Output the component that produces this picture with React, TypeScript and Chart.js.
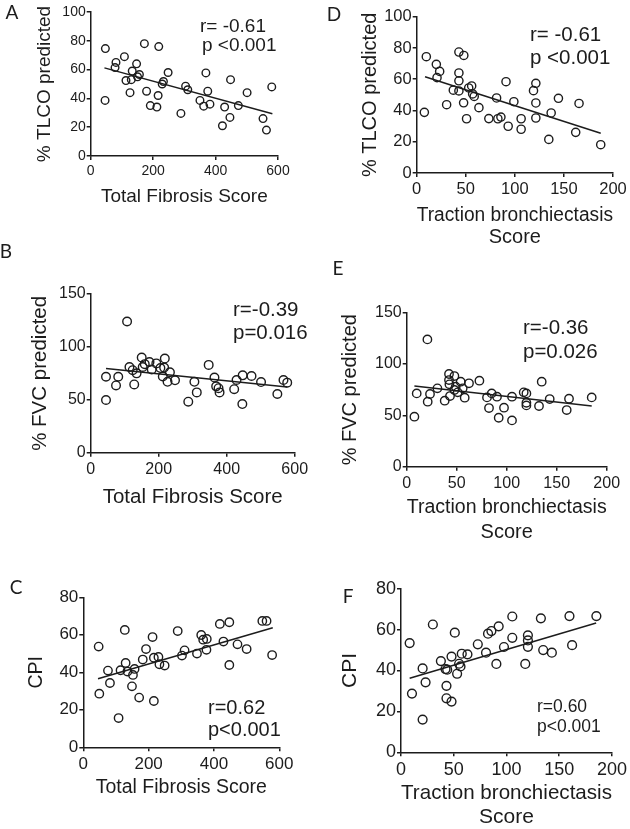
import React, { useEffect, useRef } from "react";
import { Chart, registerables } from "chart.js";
Chart.register(...registerables);

// ---- Panel A: Total Fibrosis Score vs % TLCO predicted ----
const aX = [47, 46, 78, 81, 108, 113, 126, 130, 133, 147, 150, 156, 172, 179, 191, 212, 216, 218, 229, 233, 248, 289, 304, 311, 350, 362, 369, 375, 382, 422, 429, 446, 448, 473, 501, 552, 563, 580];
const aY = [74.6, 38.6, 61.4, 65, 69, 52.4, 44, 53, 59, 64, 55, 56.6, 78, 45, 35, 34, 42, 76, 50, 51.7, 58, 29.6, 48.5, 46, 38.6, 34.6, 57.7, 45, 36, 21, 34, 26.8, 53, 35, 44, 26, 18, 48];
const aFitX = [44, 582];
const aFitY = [61.2, 29.3];

// ---- Panel D: Traction bronchiectasis Score vs % TLCO predicted ----
const dX = [7.8, 9.8, 20, 20.7, 23.4, 30.5, 37.3, 43, 43, 43, 43, 48, 47.8, 50.8, 53, 56, 57, 58.6, 63.4, 73.5, 81.4, 82.7, 85.8, 91, 93.2, 99, 106.4, 106.4, 119, 121.4, 121.4, 121.4, 134.6, 137, 144.4, 162, 165.4, 187.5];
const dY = [38.8, 74.4, 69.5, 61, 65, 43.7, 53, 77.4, 64, 59, 52.5, 75.2, 44.9, 34.7, 54.4, 55.7, 50.6, 49, 41.8, 34.8, 48, 34.7, 35.8, 58.4, 29.9, 45.6, 34.7, 28, 52.7, 57.4, 44.8, 35.2, 21.5, 38.4, 47.8, 26, 44.5, 18.1];
const dFitX = [8.5, 187.5];
const dFitY = [61.6, 25.4];

// ---- Panel B: Total Fibrosis Score vs % FVC predicted ----
const bX = [45, 45, 74.5, 81, 107, 114, 123.5, 128, 135, 150, 153, 159, 173, 179.5, 193, 205, 212, 218, 216, 226, 233, 248, 287, 305, 312, 347, 364, 369, 376, 379, 422, 429, 446, 447, 473, 501, 549, 567, 578];
const bY = [49.8, 71.8, 63.6, 71.8, 124, 81, 78, 64.5, 75, 90, 81, 83.7, 85.7, 78.7, 84.4, 80, 72, 89, 80.5, 67, 76, 68.4, 48.2, 67, 57, 83, 71, 62.7, 61, 57, 60, 68.7, 46, 73.1, 72.5, 66.8, 55.5, 68.7, 66.2];
const bFitX = [45, 578];
const bFitY = [79.5, 62];

// ---- Panel E: Traction bronchiectasis Score vs % FVC predicted ----
const eX = [7.7, 10, 20.7, 21, 23.3, 30.7, 38, 42.3, 42.3, 42.7, 43.3, 47.7, 47.7, 49, 51, 54, 56, 58, 62.3, 72.7, 80.3, 82.3, 85, 90.3, 92, 97.3, 105.3, 105.3, 117, 119.7, 119.7, 119.7, 132.3, 135, 143, 162.3, 160, 185];
const eY = [48.7, 71.4, 124, 63.3, 70.8, 76.3, 64.3, 90.3, 84.4, 80.2, 68.8, 88.3, 74.7, 77.9, 72.4, 82.8, 76.3, 67.2, 81.2, 83.8, 67.5, 57.1, 71.4, 68.2, 47.7, 57.5, 45.1, 68.2, 72.4, 71.4, 62.3, 59.7, 59.1, 82.8, 65.9, 66.2, 55.2, 67.5];
const eFitX = [7.7, 185];
const eFitY = [78.6, 59.1];

// ---- Panel C: Total Fibrosis Score vs CPI ----
const cX = [47, 49, 75.5, 81.6, 108, 114, 127, 129.6, 135, 149, 152, 157, 171, 182, 192, 212, 216, 216, 230, 233, 249, 289, 302, 310, 348, 361, 367, 378, 377, 418, 429, 447, 447, 472, 500, 548, 561, 578];
const cY = [53.7, 28.6, 40.9, 34.3, 15.6, 41.1, 62.6, 45, 40.4, 32.5, 38.6, 41.8, 26.5, 46.8, 52.4, 58.8, 24.7, 47.8, 48.2, 44.3, 43.6, 62, 48.9, 51.7, 50, 59.9, 57.4, 57.8, 52, 65.8, 56.4, 66.7, 43.9, 54.9, 52.4, 67.4, 67.4, 49.2];
const cFitX = [45, 580];
const cFitY = [36.6, 63.8];

// ---- Panel F: Traction bronchiectasis Score vs CPI ----
const fX = [8.2, 10.4, 20.5, 20.5, 23.3, 30.2, 37.8, 42.2, 43.1, 43.1, 43.8, 47.9, 47.9, 51, 53.2, 55.1, 56.4, 57.6, 63, 72.8, 80.6, 82.5, 85.7, 90.4, 92.6, 97.6, 105.5, 105.5, 117.8, 120.3, 120.3, 120.3, 132.6, 134.8, 143, 159.7, 162.2, 185.2];
const fY = [53.4, 28.7, 41, 16, 34.2, 62.5, 44.6, 40.7, 32.5, 26.4, 40.4, 24.8, 46.8, 58.5, 38.4, 43.3, 42, 48.2, 47.9, 52.8, 48.7, 58, 59.3, 43.2, 61.6, 51.5, 56, 66.4, 43.2, 57.2, 54.7, 51.6, 65.5, 50, 48.7, 66.6, 52.4, 66.6];
const fFitX = [8.2, 185];
const fFitY = [36.2, 63.2];

// ---- axis labels / annotations ----
const tlcoTitle = "% TLCO predicted";
const fvcTitle = "% FVC predicted";
const cpiTitle = "CPI";
const tfsTitle = "Total Fibrosis Score";
const tbTitle = ["Traction bronchiectasis", "Score"];

const INK = "#1c1c1c";
const SANS = '"Liberation Sans", Arial, Helvetica, sans-serif';
const LETTER_FONT = 'Lato, "Open Sans", sans-serif';

type Panel = {
  left: number; top: number; w: number; h: number;
  L: number; R: number; T: number; B: number;
  yTitleX: number; xTitleY: number;
  xs: number[]; ys: number[]; fitX: number[]; fitY: number[];
  xMax: number; xStep: number; yMax: number; yStep: number;
  xTitle: string | string[]; yTitle: string;
  titleSize: number; titleLH: number; tickSize: number; pr: number;
  notes: [string, number, number][]; noteSize: number;
  letter: string; letterX: number; letterY: number;
};

const panels: Panel[] = [
  {
    left: 0, top: 0, w: 315, h: 235, L: 90.7, R: 278, T: 12, B: 156,
    yTitleX: 45, xTitleY: 197, xs: aX, ys: aY, fitX: aFitX, fitY: aFitY,
    xMax: 600, xStep: 200, yMax: 100, yStep: 20, xTitle: tfsTitle, yTitle: tlcoTitle,
    titleSize: 19, titleLH: 1.2, tickSize: 14, pr: 3.8,
    notes: [["r= -0.61", 200, 27], ["p <0.001", 202, 46]], noteSize: 19,
    letter: "A", letterX: 12, letterY: 13,
  },
  {
    left: 315, top: 0, w: 315, h: 250, L: 101.7, R: 298, T: 16.7, B: 173,
    yTitleX: 55, xTitleY: 215, xs: dX, ys: dY, fitX: dFitX, fitY: dFitY,
    xMax: 200, xStep: 50, yMax: 100, yStep: 20, xTitle: tbTitle, yTitle: tlcoTitle,
    titleSize: 20, titleLH: 1.1, tickSize: 16.5, pr: 4.1,
    notes: [["r= -0.61", 215, 35], ["p <0.001", 215, 58]], noteSize: 20.5,
    letter: "D", letterX: 19, letterY: 15,
  },
  {
    left: 0, top: 235, w: 315, h: 320, L: 90.7, R: 294.7, T: 59, B: 217.7,
    yTitleX: 40, xTitleY: 262, xs: bX, ys: bY, fitX: bFitX, fitY: bFitY,
    xMax: 600, xStep: 200, yMax: 150, yStep: 50, xTitle: tfsTitle, yTitle: fvcTitle,
    titleSize: 20.5, titleLH: 1.2, tickSize: 16, pr: 4.3,
    notes: [["r=-0.39", 233, 75], ["p=0.016", 233, 98]], noteSize: 20.5,
    letter: "B", letterX: 6, letterY: 17,
  },
  {
    left: 315, top: 235, w: 315, h: 320, L: 91.7, R: 291.7, T: 77.7, B: 231.7,
    yTitleX: 35, xTitleY: 272, xs: eX, ys: eY, fitX: eFitX, fitY: eFitY,
    xMax: 200, xStep: 50, yMax: 150, yStep: 50, xTitle: tbTitle, yTitle: fvcTitle,
    titleSize: 20, titleLH: 1.25, tickSize: 16, pr: 4.2,
    notes: [["r=-0.36", 208, 93], ["p=0.026", 208, 117]], noteSize: 20.5,
    letter: "E", letterX: 23, letterY: 34,
  },
  {
    left: 0, top: 555, w: 315, h: 274, L: 83.3, R: 279.3, T: 42.3, B: 192.3,
    yTitleX: 37, xTitleY: 233, xs: cX, ys: cY, fitX: cFitX, fitY: cFitY,
    xMax: 600, xStep: 200, yMax: 80, yStep: 20, xTitle: tfsTitle, yTitle: cpiTitle,
    titleSize: 19.5, titleLH: 1.2, tickSize: 17, pr: 4.2,
    notes: [["r=0.62", 208, 153], ["p<0.001", 208, 175]], noteSize: 20,
    letter: "C", letterX: 16, letterY: 33,
  },
  {
    left: 315, top: 555, w: 315, h: 274, L: 86, R: 297.7, T: 33.7, B: 197.3,
    yTitleX: 35, xTitleY: 238, xs: fX, ys: fY, fitX: fFitX, fitY: fFitY,
    xMax: 200, xStep: 50, yMax: 80, yStep: 20, xTitle: tbTitle, yTitle: cpiTitle,
    titleSize: 21, titleLH: 1.143, tickSize: 18, pr: 4.4,
    notes: [["r=0.60", 222, 152], ["p<0.001", 222, 172]], noteSize: 17.5,
    letter: "F", letterX: 33, letterY: 42,
  },
];

function ScatterPanel({ p }: { p: Panel }) {
  const ref = useRef<HTMLCanvasElement | null>(null);
  useEffect(() => {
    if (!ref.current) return;
    const lh = p.titleSize * p.titleLH;
    const nLines = Array.isArray(p.xTitle) ? p.xTitle.length : 1;
    const padLeft = p.yTitleX - lh / 2;
    const yW = p.L - padLeft;
    const scaleBottom = p.xTitleY + lh / 2 + lh * (nLines - 1);
    const padBottom = p.h - scaleBottom;
    const xH = scaleBottom - p.B;

    const notesPlugin = {
      id: "notes",
      afterDraw(chart: any) {
        const ctx = chart.ctx as CanvasRenderingContext2D;
        ctx.save();
        ctx.fillStyle = INK;
        ctx.textAlign = "left";
        ctx.textBaseline = "middle";
        ctx.font = `${p.noteSize}px ${SANS}`;
        p.notes.forEach(([t, x, y]) => ctx.fillText(t, x, y));
        ctx.textAlign = "center";
        ctx.font = `19px ${LETTER_FONT}`;
        ctx.fillText(p.letter, p.letterX, p.letterY);
        ctx.restore();
      },
    };

    const tickFont = { size: p.tickSize, family: SANS };
    const titleFont = { size: p.titleSize, family: SANS, lineHeight: p.titleLH };
    const gridOpts = { display: true, drawOnChartArea: false, drawTicks: true, tickLength: 4, color: INK, lineWidth: 1.5 };
    const borderOpts = { display: true, color: INK, width: 1.5 };

    const chart = new Chart(ref.current, {
      type: "scatter",
      data: {
        datasets: [
          {
            data: p.xs.map((x, i) => ({ x, y: p.ys[i] })),
            pointRadius: p.pr,
            pointBorderWidth: 1.4,
            pointBorderColor: INK,
            pointBackgroundColor: "rgba(0,0,0,0)",
            showLine: false,
            clip: false,
          },
          {
            data: p.fitX.map((x, i) => ({ x, y: p.fitY[i] })),
            showLine: true,
            borderColor: INK,
            borderWidth: 1.5,
            pointRadius: 0,
            fill: false,
            clip: false,
          },
        ],
      } as any,
      options: {
        responsive: false,
        animation: false,
        devicePixelRatio: 1,
        layout: { padding: { left: padLeft, top: p.T, right: p.w - p.R, bottom: padBottom } },
        plugins: { legend: { display: false }, tooltip: { enabled: false } },
        scales: {
          x: {
            type: "linear", min: 0, max: p.xMax,
            ticks: { stepSize: p.xStep, font: tickFont, color: INK, padding: 3, maxRotation: 0, autoSkip: false },
            grid: gridOpts, border: borderOpts,
            title: { display: true, text: p.xTitle, font: titleFont, color: INK, padding: 0 },
            afterFit: (s: any) => { s.height = xH; },
          },
          y: {
            type: "linear", min: 0, max: p.yMax,
            ticks: { stepSize: p.yStep, font: tickFont, color: INK, padding: 1, autoSkip: false },
            grid: gridOpts, border: borderOpts,
            title: { display: true, text: p.yTitle, font: titleFont, color: INK, padding: 0 },
            afterFit: (s: any) => { s.width = yW; },
          },
        },
      } as any,
      plugins: [notesPlugin],
    });
    return () => chart.destroy();
  }, [p]);
  return (
    <canvas
      ref={ref}
      width={p.w}
      height={p.h}
      style={{ position: "absolute", left: p.left, top: p.top, width: p.w, height: p.h }}
    />
  );
}

export default function App() {
  return (
    <div style={{ position: "absolute", left: 0, top: 0, width: 630, height: 829, background: "#fff", overflow: "hidden" }}>
      {panels.map((p, i) => (
        <ScatterPanel key={i} p={p} />
      ))}
    </div>
  );
}
